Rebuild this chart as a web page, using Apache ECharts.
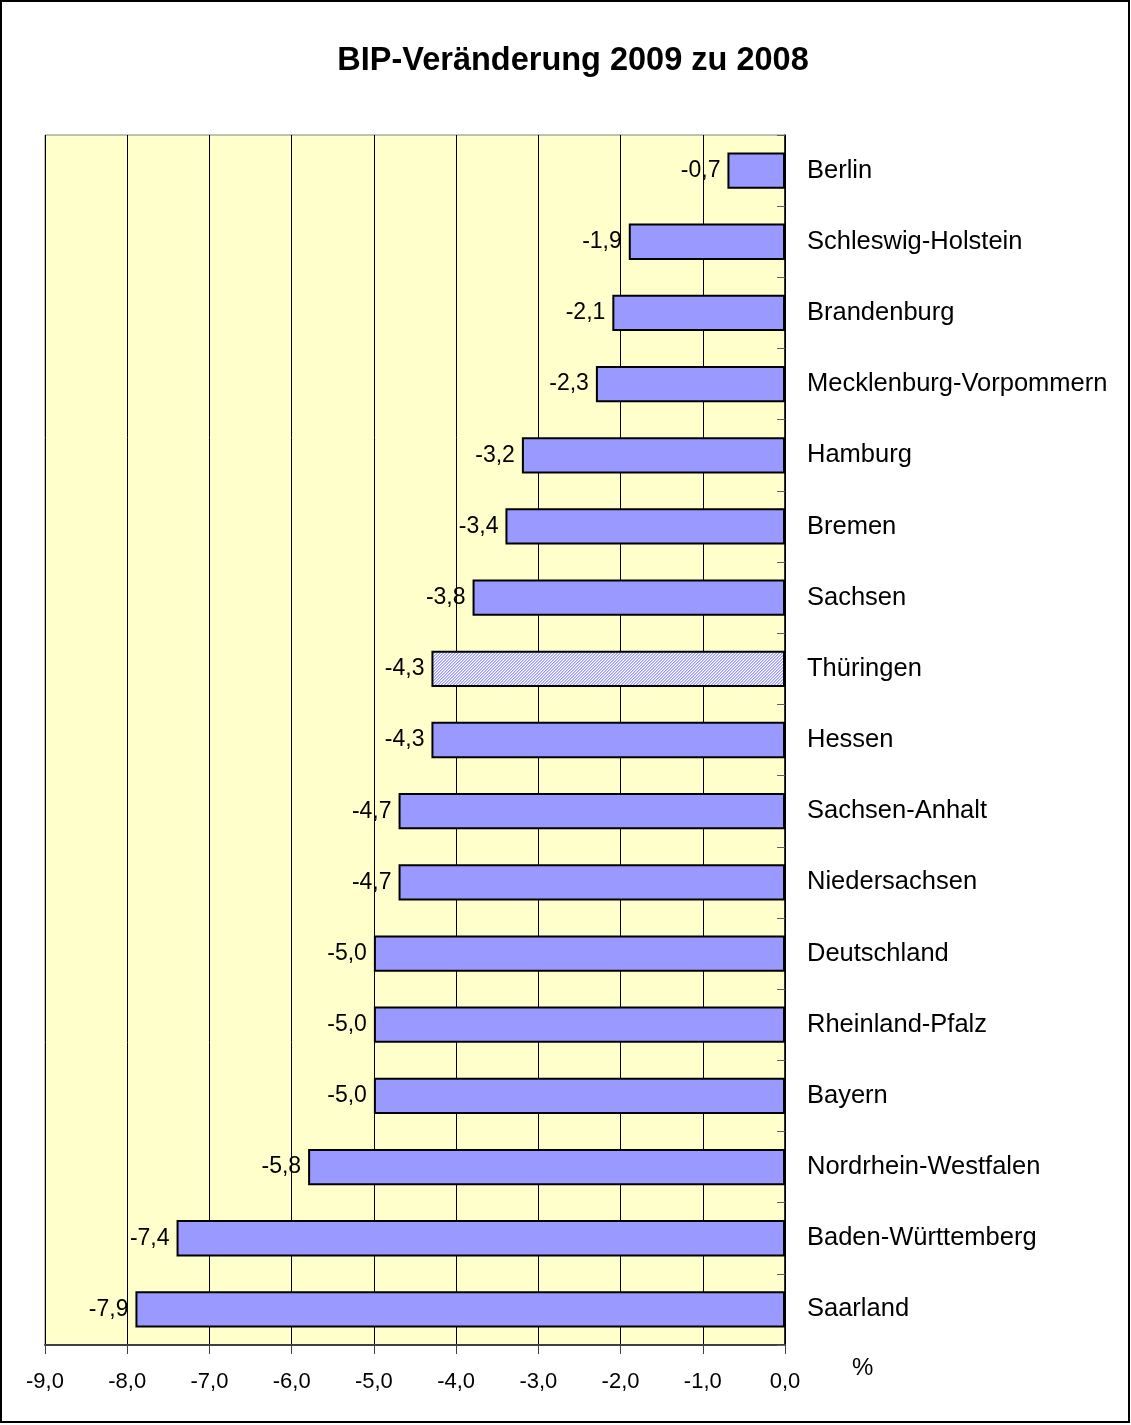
<!DOCTYPE html>
<html><head><meta charset="utf-8">
<script src="https://cdn.jsdelivr.net/npm/echarts@6/dist/echarts.min.js"></script>
<style>html,body{margin:0;padding:0;background:#fff;}#c{width:1131px;height:1425px;}</style>
</head><body><div id="c"></div>
<script>
const categories = ["Berlin","Schleswig-Holstein","Brandenburg","Mecklenburg-Vorpommern","Hamburg","Bremen","Sachsen","Thüringen","Hessen","Sachsen-Anhalt","Niedersachsen","Deutschland","Rheinland-Pfalz","Bayern","Nordrhein-Westfalen","Baden-Württemberg","Saarland"];
const values = [-0.7,-1.9,-2.1,-2.3,-3.2,-3.4,-3.8,-4.3,-4.3,-4.7,-4.7,-5.0,-5.0,-5.0,-5.8,-7.4,-7.9];
const highlighted = "Thüringen";

const pc = document.createElement('canvas');
pc.width = 6; pc.height = 6;
const g = pc.getContext('2d');
for (let x=0;x<6;x++) for (let y=0;y<6;y++){
  g.fillStyle = ((x + y) % 3 === 0) ? '#9999FF' : ((x + y) % 3 === 1 ? '#C8C8FF' : '#ffffff');
  g.fillRect(x,y,1,1);
}

const fmt = v => v.toFixed(1).replace('.', ',');
const chart = echarts.init(document.getElementById('c'), null, {renderer:'canvas'});
chart.setOption({
  animation:false,
  backgroundColor:'#ffffff',
  title:{text:'BIP-Veränderung 2009 zu 2008', left:568, top:40, textAlign:'center',
    textStyle:{fontFamily:'Liberation Sans', fontSize:32.5, fontWeight:'bold', color:'#000'}},
  grid:{left:45, right:346, top:135, bottom:80, show:true, backgroundColor:'#FFFFCC', borderColor:'#808080', borderWidth:1},
  xAxis:{type:'value', min:-9, max:0, interval:1,
    axisLine:{show:true, onZero:false, lineStyle:{color:'#404040', width:2}},
    axisTick:{show:true, length:9, lineStyle:{color:'#404040'}},
    axisLabel:{formatter:v=>fmt(v), margin:26, fontFamily:'Liberation Sans', fontSize:22, color:'#000'},
    splitLine:{show:true, lineStyle:{color:'#000', width:1}}},
  yAxis:{type:'category', data:categories, inverse:true, position:'right',
    axisLine:{show:true, onZero:false, lineStyle:{color:'#000', width:1.5}},
    axisTick:{show:true, inside:true, length:8, lineStyle:{color:'#606060'}},
    axisLabel:{margin:22, fontFamily:'Liberation Sans', fontSize:25.5, color:'#000', align:'left'}},
  series:[{type:'bar', barCategoryGap:'49%',
    data: values.map((v,i)=>({value:v, itemStyle: categories[i]===highlighted ? {color:{image:pc, repeat:'repeat'}} : {}})),
    itemStyle:{color:'#9999FF', borderColor:'#000', borderWidth:2},
    label:{show:true, position:'left', distance:7, formatter:p=>fmt(p.value), fontFamily:'Liberation Sans', fontSize:23, color:'#000'}}],
  graphic:[
    {type:'text', left:852, top:1356, style:{text:'%', fontFamily:'Liberation Sans', fontSize:24, fill:'#000'}},
    {type:'rect', shape:{x:1, y:1, width:1128, height:1421}, style:{fill:null, stroke:'#000', lineWidth:2}, silent:true, z:100}
  ]
});
</script></body></html>
